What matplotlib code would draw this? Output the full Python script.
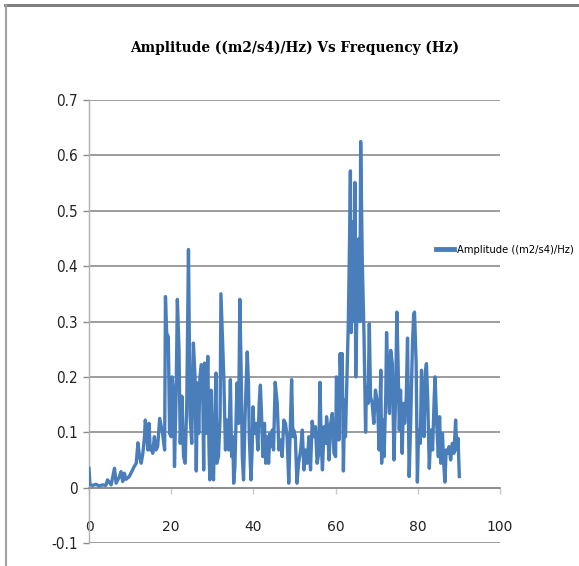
import matplotlib
matplotlib.use("Agg")
import matplotlib.pyplot as plt
from matplotlib.lines import Line2D

plt.rcParams['axes.unicode_minus'] = False

title = "Amplitude ((m2/s4)/Hz) Vs Frequency (Hz)"
series_name = "Amplitude ((m2/s4)/Hz)"

freq = [0.0, 0.24, 0.9, 1.7, 2.5, 3.3, 4.1, 4.5, 5.4, 6.2, 6.6, 7.4, 7.8, 8.2, 8.6, 9.0, 9.8,
        10.6, 11.0, 11.5, 11.9, 12.3, 12.7, 13.1, 13.5, 13.7, 14.1, 14.3, 14.6, 14.9, 15.2, 15.5,
        15.9, 16.3, 16.7, 17.2, 17.6, 17.9, 18.4, 18.6, 18.9, 19.3, 19.6, 20.0, 20.2, 20.6, 20.8,
        21.2, 21.5, 21.9, 22.2, 22.6, 23.0, 23.4, 23.8, 24.2, 24.6, 25.0, 25.4, 25.8, 26.1, 26.4,
        26.7, 27.0, 27.3, 27.6, 27.9, 28.1, 28.5, 28.9, 29.2, 29.4, 29.7, 30.0, 30.3, 30.6, 30.9,
        31.1, 31.5, 31.9, 32.1, 32.5, 32.8, 33.2, 33.6, 34.0, 34.4, 34.7, 35.0, 35.2, 35.5, 35.7,
        36.0, 36.4, 36.7, 37.0, 37.3, 37.6, 38.0, 38.5, 38.8, 39.0, 39.4, 39.7, 39.9, 40.2, 40.7,
        41.1, 41.4, 41.7, 42.0, 42.3, 42.7, 43.0, 43.3, 43.7, 44.0, 44.3, 44.6, 44.9, 45.3, 45.8,
        46.2, 46.6, 47.0, 47.4, 47.8, 48.2, 48.6, 49.0, 49.3, 49.6, 49.8, 50.2, 50.6, 51.0, 51.5,
        51.9, 52.3, 52.7, 53.1, 53.5, 53.9, 54.3, 54.7, 55.1, 55.5, 55.9, 56.2, 56.5, 56.8, 57.2,
        57.6, 57.8, 58.1, 58.4, 58.8, 59.2, 59.6, 60.0, 60.2, 60.6, 60.8, 61.1, 61.4, 61.6, 61.9,
        62.2, 62.4, 62.8, 63.1, 63.4, 63.6, 63.8, 64.0, 64.3, 64.5, 64.7, 64.9, 65.3, 65.7, 65.9,
        66.1, 66.5, 66.9, 67.3, 67.5, 67.9, 68.2, 68.5, 68.9, 69.3, 69.7, 70.2, 70.6, 71.0, 71.2,
        71.5, 71.8, 72.2, 72.4, 72.8, 73.1, 73.4, 73.8, 74.2, 74.6, 74.9, 75.2, 75.5, 75.8, 76.2,
        76.5, 76.8, 77.2, 77.5, 77.9, 78.3, 78.7, 79.0, 79.2, 79.6, 79.9, 80.2, 80.6, 80.9, 81.2,
        81.5, 81.9, 82.1, 82.4, 82.8, 83.2, 83.6, 84.0, 84.2, 84.6, 85.0, 85.3, 85.6, 86.0, 86.3,
        86.6, 86.9, 87.2, 87.6, 88.0, 88.4, 88.8, 89.2, 89.5, 89.8, 90.1]

amplitude = [0.035, 0.005, 0.004, 0.006, 0.003, 0.005, 0.004, 0.014, 0.005, 0.035, 0.008, 0.020,
             0.029, 0.011, 0.026, 0.015, 0.020, 0.032, 0.038, 0.044, 0.081, 0.056, 0.044, 0.062,
             0.092, 0.122, 0.092, 0.068, 0.116, 0.068, 0.074, 0.062, 0.092, 0.068, 0.074, 0.125,
             0.110, 0.098, 0.068, 0.345, 0.279, 0.272, 0.098, 0.092, 0.200, 0.170, 0.038, 0.170,
             0.340, 0.249, 0.080, 0.165, 0.056, 0.044, 0.158, 0.430, 0.128, 0.080, 0.261, 0.200,
             0.030, 0.189, 0.098, 0.200, 0.222, 0.219, 0.032, 0.225, 0.098, 0.237, 0.068, 0.014,
             0.176, 0.038, 0.014, 0.128, 0.207, 0.044, 0.056, 0.128, 0.350, 0.261, 0.200, 0.068,
             0.122, 0.068, 0.195, 0.056, 0.092, 0.008, 0.038, 0.098, 0.189, 0.116, 0.340, 0.219,
             0.056, 0.014, 0.135, 0.245, 0.189, 0.092, 0.014, 0.068, 0.146, 0.098, 0.116, 0.068,
             0.152, 0.185, 0.128, 0.056, 0.116, 0.044, 0.092, 0.044, 0.098, 0.074, 0.104, 0.068,
             0.190, 0.152, 0.068, 0.086, 0.056, 0.122, 0.116, 0.092, 0.008, 0.116, 0.195, 0.092,
             0.104, 0.092, 0.008, 0.044, 0.068, 0.104, 0.032, 0.068, 0.044, 0.092, 0.032, 0.120,
             0.092, 0.110, 0.044, 0.062, 0.190, 0.080, 0.032, 0.110, 0.080, 0.128, 0.104, 0.050,
             0.116, 0.134, 0.062, 0.056, 0.200, 0.176, 0.086, 0.242, 0.170, 0.242, 0.030, 0.158,
             0.092, 0.207, 0.300, 0.450, 0.572, 0.280, 0.480, 0.340, 0.300, 0.551, 0.200, 0.370,
             0.450, 0.300, 0.625, 0.405, 0.280, 0.100, 0.182, 0.152, 0.296, 0.164, 0.152, 0.116,
             0.176, 0.152, 0.068, 0.212, 0.044, 0.122, 0.056, 0.164, 0.280, 0.176, 0.134, 0.248,
             0.224, 0.050, 0.164, 0.317, 0.224, 0.104, 0.176, 0.062, 0.152, 0.116, 0.164, 0.270,
             0.020, 0.128, 0.260, 0.313, 0.317, 0.224, 0.010, 0.104, 0.080, 0.212, 0.164, 0.092,
             0.212, 0.224, 0.164, 0.035, 0.104, 0.068, 0.164, 0.200, 0.116, 0.056, 0.128, 0.044,
             0.098, 0.044, 0.010, 0.068, 0.062, 0.074, 0.050, 0.080, 0.062, 0.122, 0.068, 0.089,
             0.020]

x_ticks = [0, 20, 40, 60, 80, 100]
x_tick_labels = ["0", "20", "40", "60", "80", "100"]
y_ticks = [-0.1, 0, 0.1, 0.2, 0.3, 0.4, 0.5, 0.6, 0.7]
y_tick_labels = ["-0.1", "0", "0.1", "0.2", "0.3", "0.4", "0.5", "0.6", "0.7"]

W, H = 579, 566
fig = plt.figure(figsize=(W / 100, H / 100), dpi=100)
fig.patch.set_facecolor("white")

ax = fig.add_axes([89 / W, 1 - 543 / H, 411 / W, 443 / H])
ax.set_xlim(0, 100)
ax.set_ylim(-0.1, 0.7)

grid_color = "#8c8c8c"
tick_font = ["DejaVu Sans"]

ax.plot(freq, amplitude, color="#4a7ebb", lw=2.4, solid_joinstyle="round",
        label=series_name, zorder=3)

ax.set_yticks(y_ticks)
ax.set_yticklabels(y_tick_labels, family=tick_font, stretch="condensed", fontsize=11)
ax.set_xticks(x_ticks)
ax.set_xticklabels(x_tick_labels, family=tick_font, stretch="condensed", fontsize=11)

ax.grid(axis="y", color=grid_color, lw=1.2, zorder=1)
ax.set_axisbelow(True)

for s in ["top", "right"]:
    ax.spines[s].set_visible(False)
ax.spines["left"].set_color("#b0b0b0")
ax.spines["left"].set_linewidth(1.0)
ax.spines["bottom"].set_position(("data", 0))
ax.spines["bottom"].set_color(grid_color)
ax.spines["bottom"].set_linewidth(1.2)

ax.tick_params(axis="y", direction="out", length=4, width=1, color=grid_color,
               pad=4, labelcolor="#222222")
ax.tick_params(axis="x", direction="out", length=4, width=1, color="#c8c8c8",
               pad=19, labelcolor="#222222")

fig.text(295 / W, 1 - 48 / H, title, ha="center", va="center",
         family=["DejaVu Serif"], stretch="condensed", fontweight="bold", fontsize=11)

leg = ax.legend(loc="center left", bbox_to_anchor=(0.845, 0.6625), frameon=False,
                borderpad=0, borderaxespad=0, handlelength=1.6, handletextpad=0.3,
                prop={"family": tick_font, "stretch": "condensed", "size": 8})
for line in leg.get_lines():
    line.set_linewidth(3.5)

fig.add_artist(Line2D([5 / W, 1.0], [1 - 5 / H, 1 - 5 / H], transform=fig.transFigure,
                      color="#808080", lw=2.2))
fig.add_artist(Line2D([6 / W, 6 / W], [1 - 5 / H, 0.0], transform=fig.transFigure,
                      color="#a0a0a0", lw=1.5))

fig.savefig("out.png", dpi=100, facecolor="white")
